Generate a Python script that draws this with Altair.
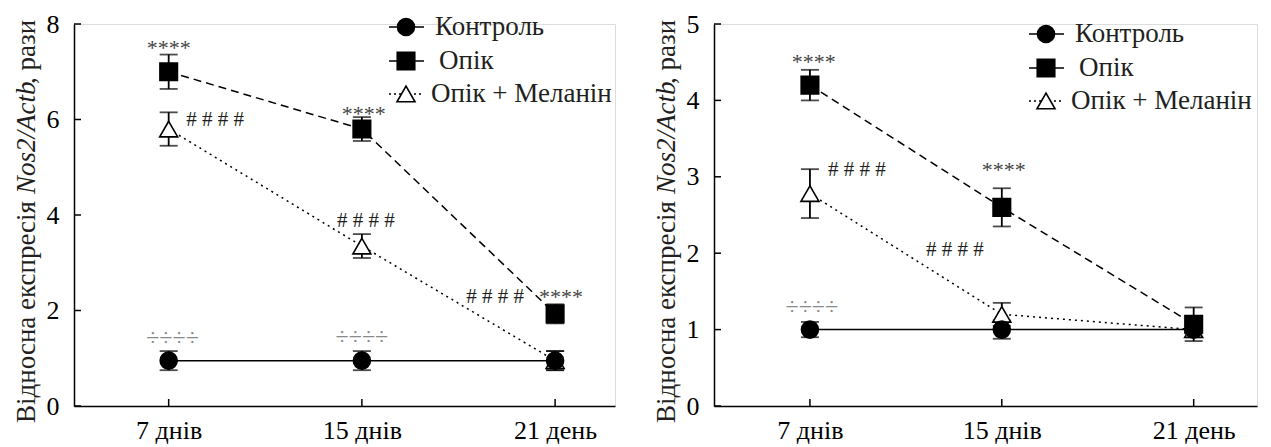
import altair as alt
import pandas as pd

# ---------------- data ----------------
DAYS = ["7 днів", "15 днів", "21 день"]
SERIES = ["Контроль", "Опік", "Опік + Меланін"]
TITLE_PARTS = ["Відносна експресія", "Nos2/Actb", ", рази"]

# left panel
L_CONTROL = [0.95, 0.95, 0.95]
L_CONTROL_ERR = [0.2, 0.2, 0.2]
L_BURN = [7.0, 5.8, 1.93]
L_BURN_ERR = [0.36, 0.25, 0.2]
L_MEL = [5.8, 3.35, 0.95]
L_MEL_ERR = [0.35, 0.25, 0.2]
L_YTICKS = [0, 2, 4, 6, 8]

L_STAR_X = [0.0, 1.01, 2.03]
L_STAR_Y = [7.6, 6.22, 2.39]
L_HASH_X = [0.24, 1.02, 1.69]
L_HASH_Y = [6.0, 3.87, 2.28]
L_DIV_X = [0.02, 1.0]
L_DIV_Y = [1.42, 1.44]

# right panel
R_CONTROL = [1.0, 1.0, 1.0]
R_CONTROL_ERR = [0.1, 0.12, 0.1]
R_BURN = [4.2, 2.6, 1.07]
R_BURN_ERR = [0.2, 0.25, 0.22]
R_MEL = [2.78, 1.2, 1.0]
R_MEL_ERR = [0.32, 0.15, 0.05]
R_YTICKS = [0, 1, 2, 3, 4, 5]

R_STAR_X = [0.02, 1.01]
R_STAR_Y = [4.57, 3.15]
R_HASH_X = [0.245, 0.755]
R_HASH_Y = [3.09, 2.04]
R_DIV_X = [0.01]
R_DIV_Y = [1.30]

STAR = "****"
HASH = "# # # #"
DIV = "÷÷÷÷"

# ---------------- styles ----------------
FONT = "Liberation Serif"
INK = "#231f20"
DASHES = [[1, 0], [8, 5], [2, 4]]
LEGEND_DASHES = [[1, 0], [1, 0], [2, 3]]
SHAPES = ["circle", "square", "triangle-up"]
FILLS = ["black", "black", "white"]
SIZES = [289, 324, 600]
ZORDER = [1, 2, 0]
H = 382

label_expr = "[" + ",".join("'" + d + "'" for d in DAYS) + "][datum.value]"


def panel(ctrl, ctrl_e, burn, burn_e, mel, mel_e, ymax, yticks,
          sx, sy, hx, hy, dx, dy, xdom, width, leg_y0):
    rows = []
    for s, vals, errs in zip(SERIES, [ctrl, burn, mel], [ctrl_e, burn_e, mel_e]):
        for i, (v, e) in enumerate(zip(vals, errs)):
            rows.append({"idx": i, "series": s, "value": v, "lo": v - e, "hi": v + e,
                         "z": ZORDER[SERIES.index(s)]})
    df = pd.DataFrame(rows)

    xs = alt.Scale(domain=xdom, nice=False, zero=False)
    ys = alt.Scale(domain=[0, ymax], nice=False)

    def X(f):
        return alt.X(f"{f}:Q", scale=xs, title=None,
                     axis=alt.Axis(values=[0, 1, 2], labelExpr=label_expr, grid=False,
                                   ticks=False, labelPadding=11, domainColor="black",
                                   domainWidth=1.5, labelFontSize=26, labelFont=FONT))

    def Y(f):
        return alt.Y(f"{f}:Q", scale=ys, title=None,
                     axis=alt.Axis(values=yticks, grid=False, ticks=False, labelPadding=15,
                                   domainColor="black", domainWidth=1.5, labelFontSize=26,
                                   labelFont=FONT))

    dash = alt.StrokeDash("series:N", scale=alt.Scale(domain=SERIES, range=DASHES), legend=None)
    shape = alt.Shape("series:N", scale=alt.Scale(domain=SERIES, range=SHAPES), legend=None)
    fill = alt.Fill("series:N", scale=alt.Scale(domain=SERIES, range=FILLS), legend=None)
    size = alt.Size("series:N", scale=alt.Scale(domain=SERIES, range=SIZES), legend=None)

    base = alt.Chart(df)
    lines = base.mark_line(color="black", strokeWidth=1.5).encode(
        x=X("idx"), y=Y("value"), strokeDash=dash, detail="series:N")
    ebar = base.mark_rule(color="black", strokeWidth=1.8).encode(
        x=X("idx"), y=Y("lo"), y2="hi:Q")
    cap_lo = base.mark_tick(orient="horizontal", color="black", size=18, thickness=1.8).encode(
        x=X("idx"), y=Y("lo"))
    cap_hi = base.mark_tick(orient="horizontal", color="black", size=18, thickness=1.8).encode(
        x=X("idx"), y=Y("hi"))
    pts = base.mark_point(filled=True, stroke="black", strokeWidth=1.6, opacity=1).encode(
        x=X("idx"), y=Y("value"), shape=shape, fill=fill, size=size, order="z:Q")

    # axis ticks drawn inward
    xt = alt.Chart(pd.DataFrame({"t": [0, 1, 2]})).mark_rule(color="black", strokeWidth=1.5).encode(
        x=X("t"), y=alt.value(H), y2=alt.value(H - 7))
    yt = alt.Chart(pd.DataFrame({"t": yticks})).mark_rule(color="black", strokeWidth=1.5).encode(
        y=Y("t"), x=alt.value(0), x2=alt.value(7))

    # annotations
    stars = alt.Chart(pd.DataFrame({"x": sx, "y": sy, "t": [STAR] * len(sx)})).mark_text(
        font=FONT, fontSize=22, color="#444444", dy=5, baseline="middle").encode(
        x=X("x"), y=Y("y"), text="t:N")
    hashes = alt.Chart(pd.DataFrame({"x": hx, "y": hy, "t": [HASH] * len(hx)})).mark_text(
        font=FONT, fontSize=21, color=INK, baseline="middle").encode(
        x=X("x"), y=Y("y"), text="t:N")
    divs = alt.Chart(pd.DataFrame({"x": dx, "y": dy, "t": [DIV] * len(dx)})).mark_text(
        font=FONT, fontSize=24, color="#8a8a8a", baseline="middle").encode(
        x=X("x"), y=Y("y"), text="t:N")

    # legend
    ldf = pd.DataFrame({"series": SERIES,
                        "ly": [leg_y0, leg_y0 + 34, leg_y0 + 67],
                        "lx": [361, 365, 357]})
    lbase = alt.Chart(ldf)
    lline = lbase.mark_rule(color="black", strokeWidth=1.5).encode(
        x=alt.value(315), x2=alt.value(350), y=alt.Y("ly:Q", scale=None),
        strokeDash=alt.StrokeDash("series:N", scale=alt.Scale(domain=SERIES, range=LEGEND_DASHES),
                                  legend=None))
    lpt = lbase.mark_point(filled=True, stroke="black", strokeWidth=1.6, opacity=1).encode(
        x=alt.value(332), y=alt.Y("ly:Q", scale=None), shape=shape, fill=fill,
        size=alt.Size("series:N", scale=alt.Scale(domain=SERIES, range=[289, 324, 330]), legend=None))
    ltxt = lbase.mark_text(font=FONT, fontSize=27, color=INK, align="left", baseline="middle").encode(
        x=alt.X("lx:Q", scale=None), y=alt.Y("ly:Q", scale=None), text="series:N")

    # y title (mixed roman / italic)
    t1 = alt.Chart(pd.DataFrame({"t": [TITLE_PARTS[0]]})).mark_text(
        font=FONT, fontSize=27, color=INK, angle=270, align="right", baseline="alphabetic").encode(
        x=alt.value(-39), y=alt.value(177), text="t:N")
    t2 = alt.Chart(pd.DataFrame({"t": [TITLE_PARTS[1]]})).mark_text(
        font=FONT, fontSize=27, fontStyle="italic", color=INK, angle=270, align="left",
        baseline="alphabetic").encode(x=alt.value(-39), y=alt.value(170), text="t:N")
    t3 = alt.Chart(pd.DataFrame({"t": [TITLE_PARTS[2]]})).mark_text(
        font=FONT, fontSize=27, color=INK, angle=270, align="left", baseline="alphabetic").encode(
        x=alt.value(-39), y=alt.value(60), text="t:N")

    return alt.layer(lines, ebar, cap_lo, cap_hi, pts, xt, yt, stars, hashes, divs,
                     lline, lpt, ltxt, t1, t2, t3).resolve_scale(
        strokeDash="independent", size="independent").properties(width=width, height=H)


left = panel(L_CONTROL, L_CONTROL_ERR, L_BURN, L_BURN_ERR, L_MEL, L_MEL_ERR, 8, L_YTICKS,
             L_STAR_X, L_STAR_Y, L_HASH_X, L_HASH_Y, L_DIV_X, L_DIV_Y,
             [-0.49, 2.31], 541, 3)
right = panel(R_CONTROL, R_CONTROL_ERR, R_BURN, R_BURN_ERR, R_MEL, R_MEL_ERR, 5, R_YTICKS,
              R_STAR_X, R_STAR_Y, R_HASH_X, R_HASH_Y, R_DIV_X, R_DIV_Y,
              [-0.5, 2.33], 543, 10)

chart = alt.hconcat(left, right, spacing=99, bounds="flush").properties(
    padding={"left": 4, "top": 2, "right": 4, "bottom": 2}
).configure_view(stroke=None).configure_axis(
    labelFont=FONT, labelColor=INK
).configure_text(font=FONT).configure(background="white", font=FONT)

chart.save("out.html", embed_options={"renderer": "svg", "actions": False})
